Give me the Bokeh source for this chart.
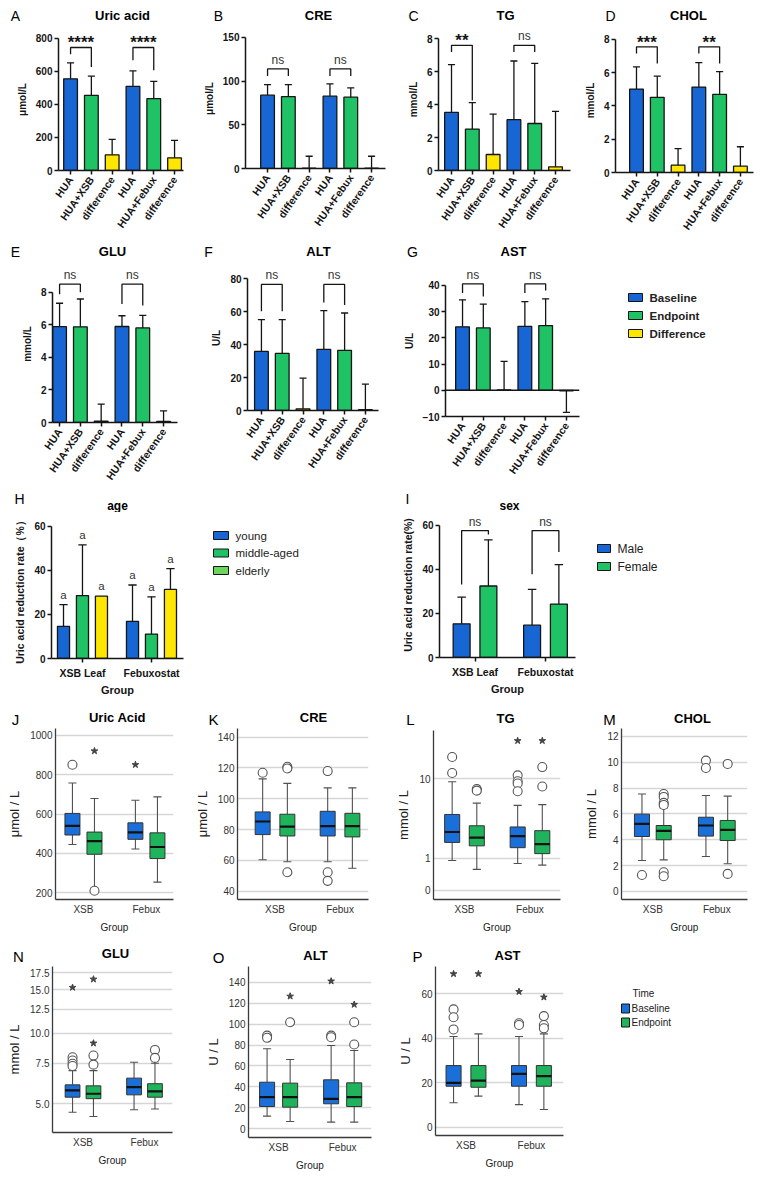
import numpy as np
from bokeh.plotting import figure
from bokeh.models import Range1d, FixedTicker, Span, ColumnDataSource
from bokeh.layouts import row, column
from bokeh.embed import file_html
from bokeh.resources import INLINE
from bokeh.core.properties import value

FONT = "Liberation Sans"
INK = "#151515"

GP_BLUE = "#1766d4"
GP_GREEN = "#1fc265"
GP_YELLOW = "#ffe600"
GP_LIGHT = "#6ad65a"
SP_BLUE = "#1b6fd8"
SP_GREEN = "#1fb45c"

# ---------------------------------------------------------------- data
bar_labels = ["HUA", "HUA+XSB", "difference", "HUA", "HUA+Febux", "difference"]
bar_roles = ["Baseline", "Endpoint", "Difference", "Baseline", "Endpoint", "Difference"]

uric_mean = [555, 455, 95, 510, 435, 77]
uric_sd = [97, 116, 93, 93, 105, 105]
cre_mean = [84.0, 82.4, 0.3, 82.8, 81.7, 0.3]
cre_sd = [12.0, 13.6, 13.7, 14.0, 10.6, 13.7]
tg_mean = [3.52, 2.51, 0.97, 3.08, 2.85, 0.22]
tg_sd = [2.90, 1.60, 2.45, 3.56, 3.65, 3.36]
chol_mean = [5.02, 4.52, 0.44, 5.14, 4.70, 0.38]
chol_sd = [1.33, 1.27, 0.99, 1.47, 1.37, 1.17]
glu_mean = [5.89, 5.88, 0.08, 5.90, 5.81, 0.06]
glu_sd = [1.44, 1.71, 1.05, 0.66, 0.77, 0.65]
alt_mean = [35.8, 34.6, 1.0, 37.1, 36.5, 0.5]
alt_sd = [19.3, 20.5, 18.6, 23.5, 22.6, 15.5]
ast_mean = [24.2, 23.8, 0.1, 24.4, 24.7, -0.2]
ast_sd = [10.3, 9.1, 10.9, 9.4, 10.2, 8.2]

# significance brackets: (left bar, right bar, bracket level, left leg end, right leg end, label)
uric_sig = [(0, 1, 745, 704, 627, "****"), (3, 4, 745, 668, 607, "****")]
cre_sig = [(0, 1, 114, 106, 106, "ns"), (3, 4, 114, 106, 106, "ns")]
tg_sig = [(0, 1, 7.59, 7.19, 4.25, "**"), (3, 4, 7.59, 7.19, 7.19, "ns")]
chol_sig = [(0, 1, 7.56, 7.16, 6.55, "***"), (3, 4, 7.56, 7.16, 6.55, "**")]
glu_sig = [(0, 1, 8.5, 7.89, 8.0, "ns"), (3, 4, 8.5, 7.29, 7.19, "ns")]
alt_sig = [(0, 1, 76.4, 60.2, 60.2, "ns"), (3, 4, 76.4, 65.5, 64.0, "ns")]
ast_sig = [(0, 1, 40.6, 37.1, 35.8, "ns"), (3, 4, 40.6, 37.1, 38.1, "ns")]

# uric acid reduction rate (%) by subgroup
group_labels = ["XSB Leaf", "Febuxostat"]
young_mean = [14.6, 16.9]
young_sd = [9.9, 16.5]
middle_mean = [28.6, 11.1]
middle_sd = [23.0, 16.9]
elderly_mean = [28.3, 31.4]
elderly_sd = [None, 9.4]
age_letters = ["a", "a", "a", "a", "a", "a"]

male_mean = [15.3, 14.7]
male_sd = [12.1, 16.3]
female_mean = [32.5, 24.3]
female_sd = [21.0, 17.9]
sex_sig = [(57.7, 33.2, 55.9, "ns"), (57.7, 37.8, 47.9, "ns")]

# box plots: order XSB-Baseline, XSB-Endpoint, Febux-Baseline, Febux-Endpoint
box_groups = ["XSB", "Febux"]
uric_box = dict(lo=[445, 222, 422, 253], q1=[493, 395, 471, 373], med=[540, 462, 506, 432],
                q3=[603, 508, 555, 504], hi=[758, 679, 670, 687])
uric_out = [(0, 851), (1, 209)]
uric_ext = [(1, 921), (2, 851)]

cre_box = dict(lo=[60.5, 59.2, 59.2, 55.0], q1=[76.8, 75.9, 75.9, 75.3], med=[85.3, 81.9, 82.3, 82.3],
               q3=[91.5, 90.0, 91.9, 90.6], hi=[112.9, 110.0, 107.1, 107.1])
cre_out = [(0, 116.9), (1, 120.8), (1, 119.7), (1, 52.4), (2, 118.0), (2, 52.4), (2, 46.8)]
cre_ext = []

tg_box = dict(lo=[0.90, 0.57, 0.78, 0.72], q1=[1.8, 1.6, 1.5, 1.2], med=[2.5, 2.1, 2.2, 1.7],
              q3=[4.1, 3.0, 2.9, 2.6], hi=[9.3, 5.5, 5.2, 5.3])
tg_out = [(0, 16.5), (0, 11.4), (1, 7.8), (1, 7.5), (2, 10.8), (2, 9.4), (2, 8.9), (2, 7.4), (3, 13.1), (3, 8.3)]
tg_ext = [(2, 23.8), (3, 23.8)]

chol_box = dict(lo=[2.40, 2.44, 2.70, 2.14], q1=[4.25, 4.00, 4.28, 3.94], med=[5.23, 4.69, 5.10, 4.76],
                q3=[5.98, 5.10, 5.74, 5.49], hi=[7.54, 6.46, 7.42, 7.37])
chol_out = [(0, 1.27), (1, 7.54), (1, 7.31), (1, 6.85), (1, 6.69), (1, 1.49), (1, 1.18),
            (2, 10.12), (2, 9.55), (3, 9.86), (3, 1.36)]
chol_ext = []

glu_box = dict(lo=[4.58, 4.38, 4.70, 4.74], q1=[5.35, 5.27, 5.48, 5.35], med=[5.73, 5.54, 5.92, 5.68],
               q3=[6.06, 6.00, 6.48, 6.13], hi=[6.98, 6.98, 7.57, 7.50])
glu_out = [(0, 7.95), (0, 7.7), (0, 7.46), (0, 7.3), (1, 8.08), (1, 7.4), (3, 8.53), (3, 7.9)]
glu_ext = [(0, 15.3), (1, 16.5), (1, 9.1)]

alt_box = dict(lo=[12.1, 7.0, 6.4, 6.4], q1=[21.3, 20.7, 23.9, 21.3], med=[30.2, 30.2, 28.6, 30.2],
               q3=[44.5, 43.6, 46.8, 43.9], hi=[76.4, 66.2, 79.5, 74.8])
alt_out = [(0, 89.0), (0, 86.9), (1, 101.8), (2, 89.0), (2, 87.5), (3, 101.8), (3, 80.5)]
alt_ext = [(1, 126.6), (2, 141.0), (3, 118.7)]

ast_box = dict(lo=[11.0, 14.0, 10.2, 8.0], q1=[18.45, 18.0, 18.45, 18.45], med=[19.95, 21.0, 24.0, 23.0],
               q3=[27.75, 27.75, 27.75, 27.75], hi=[40.8, 42.0, 40.8, 42.0])
ast_out = [(0, 53.0), (0, 49.5), (0, 44.0), (2, 46.8), (2, 46.0), (3, 50.0), (3, 46.0), (3, 44.5)]
ast_ext = [(0, 69.0), (1, 69.0), (2, 61.0), (3, 58.5)]

# panel headings and key entries
headings = {
    "A": "Uric acid", "B": "CRE", "C": "TG", "D": "CHOL", "E": "GLU", "F": "ALT", "G": "AST",
    "H": "age", "I": "sex", "J": "Uric Acid", "K": "CRE", "L": "TG", "M": "CHOL",
    "N": "GLU", "O": "ALT", "P": "AST",
}
time_key = ["Baseline", "Endpoint", "Difference"]
age_key = ["young", "middle-aged", "elderly"]
sex_key = ["Male", "Female"]


# ---------------------------------------------------------------- helpers
def make_fig(g):
    ox0, oy0, ox1, oy1 = g["outer"]
    L, T, R, B = g["frame"]
    p = figure(width=ox1 - ox0, height=oy1 - oy0,
               x_range=Range1d(*g["xr"]), y_range=Range1d(*g["yr"]),
               output_backend="svg", toolbar_location=None,
               min_border_left=L - ox0, min_border_right=ox1 - R,
               min_border_top=T - oy0, min_border_bottom=oy1 - B)
    p.outline_line_color = None
    p.background_fill_color = "white"
    p.border_fill_color = "white"
    p.xgrid.visible = False
    p.ygrid.visible = False
    return p


def canvas(x0, y0, x1, y1):
    """Plain drawing strip whose ranges are page pixels (y grows downward)."""
    p = figure(width=x1 - x0, height=y1 - y0, x_range=Range1d(x0, x1), y_range=Range1d(y1, y0),
               x_axis_location=None, y_axis_location=None, output_backend="svg",
               toolbar_location=None, min_border=0)
    p.outline_line_color = None
    p.background_fill_color = "white"
    p.border_fill_color = "white"
    p.grid.visible = False
    return p


def header(y0, y1, letters, titles, letter_size="14px", title_size="13px"):
    p = canvas(0, y0, 770, y1)
    p.text(x=[x for _, x, _ in letters], y=[y for _, _, y in letters], text=[t for t, _, _ in letters],
           text_align="center", text_baseline="middle", text_font=value(FONT),
           text_font_size=letter_size, text_color="#000")
    p.text(x=[x for _, x, _ in titles], y=[y for _, _, y in titles],
           text=[headings[t] for t, _, _ in titles],
           text_align="center", text_baseline="middle", text_font=value(FONT),
           text_font_size=title_size, text_font_style="bold", text_color="#000")
    return p


def key(box, labels, colors, x_left, sw_w, sw_h, ys, text_x, size, style, title=None):
    p = canvas(*box)
    p.rect(x=[x_left + sw_w / 2] * len(labels), y=ys, width=sw_w, height=sw_h,
           fill_color=colors, line_color=INK, line_width=1)
    p.text(x=[text_x] * len(labels), y=ys, text=labels, text_align="left", text_baseline="middle",
           text_font=value(FONT), text_font_size=size, text_font_style=style, text_color="#222")
    if title:
        t, tx, ty = title
        p.text(x=[tx], y=[ty], text=[t], text_align="center", text_baseline="middle",
               text_font=value(FONT), text_font_size=size, text_color="#222")
    return p


def per_px(g):
    L, T, R, B = g["frame"]
    y0, y1 = g["yr"]
    return (y1 - y0) / (B - T)


def gp_axes(p, yticks, ybounds, ylabel, label_size="10px"):
    for ax in (p.xaxis[0], p.yaxis[0]):
        ax.axis_line_color = INK
        ax.axis_line_width = 1.5
        ax.major_tick_line_color = INK
        ax.major_tick_line_width = 1.5
        ax.major_tick_out = 4
        ax.major_tick_in = 0
        ax.minor_tick_line_color = None
        ax.major_label_text_font = FONT
        ax.major_label_text_font_size = "10px"
        ax.major_label_text_font_style = "bold"
        ax.major_label_text_color = INK
        ax.axis_label_text_font = FONT
        ax.axis_label_text_font_style = "bold"
        ax.axis_label_text_color = INK
        ax.axis_label_text_font_size = label_size
    p.yaxis.ticker = FixedTicker(ticks=yticks)
    p.yaxis.bounds = ybounds
    p.yaxis.axis_label = ylabel
    p.yaxis.major_label_standoff = 2
    p.yaxis.axis_label_standoff = 5


def sig_text(p, g, x, level, label):
    k = per_px(g)
    if label == "ns":
        p.text(x=[x], y=[level + 9 * k], text=[label], text_align="center", text_baseline="middle",
               text_font=value(FONT), text_font_size="12px", text_color="#333")
    else:
        p.text(x=[x], y=[level + 4.5 * k], text=[label], text_align="center", text_baseline="middle",
               text_font=value(FONT), text_font_size="17px", text_font_style="bold", text_color=INK)


def bar_panel(g, means, sds, sig, yticks, ybounds, ylabel, zero_line=False):
    p = make_fig(g)
    idx = np.arange(len(bar_labels), dtype=float)
    means = np.asarray(means, dtype=float)
    sds = np.asarray(sds, dtype=float)
    ends = np.where(means < 0, means - sds, means + sds)
    for role, color in (("Baseline", GP_BLUE), ("Endpoint", GP_GREEN), ("Difference", GP_YELLOW)):
        sel = [i for i, r in enumerate(bar_roles) if r == role]
        src = ColumnDataSource(dict(x=idx[sel], top=means[sel]))
        p.vbar(x="x", top="top", bottom=0, width=0.66, source=src,
               fill_color=color, line_color=INK, line_width=1.3)
    p.segment(x0=idx, y0=means, x1=idx, y1=ends, line_color=INK, line_width=1.3)
    p.segment(x0=idx - 0.17, y0=ends, x1=idx + 0.17, y1=ends, line_color=INK, line_width=1.3)
    xs, ys = [], []
    for i, j, lev, le, re, lab in sig:
        xs.append([i, i, j, j])
        ys.append([le, lev, lev, re])
        sig_text(p, g, (i + j) / 2, lev, lab)
    p.multi_line(xs, ys, line_color=INK, line_width=1.3)
    if zero_line:
        p.add_layout(Span(location=0, dimension="width", line_color=INK, line_width=1.5))
    gp_axes(p, yticks, ybounds, ylabel)
    p.xaxis.ticker = FixedTicker(ticks=list(range(len(bar_labels))))
    p.xaxis.major_label_overrides = {i: lab for i, lab in enumerate(bar_labels)}
    p.xaxis.major_label_orientation = np.deg2rad(55)
    p.xaxis.major_label_text_font_size = "10.5px"
    p.xaxis.major_label_standoff = 3
    return p


def box_panel(g, st, outl, ext, ticks, tick_labels, ylabel, off, width, tf=None):
    tf = tf or (lambda v: np.asarray(v, dtype=float))
    p = make_fig(g)
    pos = np.array([-off, off, 1 - off, 1 + off])
    lo, q1, med, q3, hi = (tf(st[k]) for k in ("lo", "q1", "med", "q3", "hi"))
    whisk = "#505050"
    p.segment(x0=pos, y0=q3, x1=pos, y1=hi, line_color=whisk, line_width=1.1)
    p.segment(x0=pos, y0=q1, x1=pos, y1=lo, line_color=whisk, line_width=1.1)
    cap = width * 0.27
    p.segment(x0=pos - cap, y0=hi, x1=pos + cap, y1=hi, line_color=whisk, line_width=1.1)
    p.segment(x0=pos - cap, y0=lo, x1=pos + cap, y1=lo, line_color=whisk, line_width=1.1)
    for k, color in enumerate((SP_BLUE, SP_GREEN)):
        sel = [k, k + 2]
        src = ColumnDataSource(dict(x=pos[sel], b=q1[sel], t=q3[sel]))
        p.vbar(x="x", bottom="b", top="t", width=width, source=src,
               fill_color=color, line_color="#333", line_width=1)
    p.segment(x0=pos - width / 2, y0=med, x1=pos + width / 2, y1=med, line_color="#111", line_width=2.2)
    if outl:
        ox = [pos[i] for i, v in outl]
        oy = tf([v for i, v in outl])
        p.scatter(ox, oy, marker="circle", size=9, fill_color="white", line_color="#555", line_width=1.1)
    if ext:
        ex = [pos[i] for i, v in ext]
        ey = tf([v for i, v in ext])
        p.scatter(ex, ey, marker="star", size=7, fill_color="#444", line_color="#444")
    ticks = [round(float(t), 6) for t in tf(ticks)]
    p.ygrid.visible = True
    p.ygrid.ticker = FixedTicker(ticks=ticks)
    p.ygrid.grid_line_color = "#d6d6d6"
    p.ygrid.grid_line_width = 1.3
    for ax in (p.xaxis[0], p.yaxis[0]):
        ax.axis_line_color = "#3a3a3a"
        ax.axis_line_width = 1.3
        ax.major_tick_line_color = None
        ax.major_tick_out = 0
        ax.major_tick_in = 0
        ax.minor_tick_line_color = None
        ax.minor_tick_out = 0
        ax.major_label_text_font = FONT
        ax.major_label_text_font_size = "10px"
        ax.major_label_text_color = "#333"
        ax.axis_label_text_font = FONT
        ax.axis_label_text_font_style = "normal"
        ax.axis_label_text_color = "#222"
    p.yaxis.ticker = FixedTicker(ticks=ticks)
    p.yaxis.major_label_overrides = {t: lab for t, lab in zip(ticks, tick_labels)}
    p.yaxis.major_label_standoff = 3
    p.yaxis.axis_label = ylabel
    p.yaxis.axis_label_text_font_size = "13px"
    p.yaxis.axis_label_standoff = 5
    p.xaxis.ticker = FixedTicker(ticks=[0, 1])
    p.xaxis.major_label_overrides = {0: box_groups[0], 1: box_groups[1]}
    p.xaxis.major_label_standoff = 4
    p.xaxis.axis_label = "Group"
    p.xaxis.axis_label_text_font_size = "10px"
    p.xaxis.axis_label_standoff = 4
    return p


def log1p10(v):
    return np.log10(np.asarray(v, dtype=float) + 1.0)


def strip(*items):
    # each plot sits in its own column so that neighbouring frames keep their own borders
    return row(*[column(it) for it in items])


# ---------------------------------------------------------------- panel geometry (page pixels)
G = {
    "A": dict(outer=(0, 25, 195, 240), frame=(58, 28, 183, 170), xr=(-0.58, 5.43), yr=(0, 860)),
    "B": dict(outer=(195, 25, 390, 240), frame=(245, 28, 385, 168), xr=(-1.06, 5.67), yr=(0, 160.3)),
    "C": dict(outer=(390, 25, 575, 240), frame=(438, 28, 570, 170), xr=(-0.625, 5.72), yr=(0, 8.61)),
    "D": dict(outer=(575, 25, 770, 240), frame=(615, 28, 753, 172), xr=(-1.01, 5.63), yr=(0, 8.66)),
    "E": dict(outer=(0, 262, 195, 488), frame=(52, 265, 177, 423), xr=(-0.34, 5.67), yr=(0, 9.65)),
    "F": dict(outer=(195, 262, 385, 488), frame=(247, 265, 378, 410), xr=(-0.67, 5.63), yr=(0, 87.9)),
    "G": dict(outer=(385, 262, 600, 488), frame=(445, 265, 579, 416), xr=(-0.82, 5.63), yr=(-10, 47.6)),
    "H": dict(outer=(0, 512, 200, 700), frame=(51, 520, 183, 658), xr=(-0.449, 1.464), yr=(0, 62.7)),
    "I": dict(outer=(385, 512, 590, 700), frame=(439, 512, 575, 657), xr=(-0.504, 1.426), yr=(0, 65.9)),
    "J": dict(outer=(0, 728, 190, 935), frame=(55, 728, 173, 900), xr=(-0.444, 1.43), yr=(164.6, 1035.4)),
    "K": dict(outer=(190, 728, 385, 935), frame=(237, 728, 368, 901), xr=(-0.577, 1.438), yr=(34.7, 145.6)),
    "L": dict(outer=(385, 728, 580, 935), frame=(433, 730, 560, 902), xr=(-0.473, 1.466), yr=(-0.085, 1.49)),
    "M": dict(outer=(580, 728, 770, 935), frame=(621, 728, 747, 899), xr=(-0.49, 1.48), yr=(-0.62, 12.6)),
    "N": dict(outer=(0, 966, 190, 1179), frame=(52, 966, 172, 1132), xr=(-0.496, 1.455), yr=(0.671, 1.2905)),
    "O": dict(outer=(190, 966, 385, 1179), frame=(248, 966, 371, 1137), xr=(-0.47, 1.45), yr=(-8.3, 155.0)),
    "P": dict(outer=(385, 966, 600, 1179), frame=(435, 966, 563, 1135), xr=(-0.466, 1.49), yr=(-3.7, 72.3)),
}

# ---------------------------------------------------------------- bar panels A-G
pA = bar_panel(G["A"], uric_mean, uric_sd, uric_sig, [0, 200, 400, 600, 800], (0, 800), "μmol/L")
pB = bar_panel(G["B"], cre_mean, cre_sd, cre_sig, [0, 50, 100, 150], (0, 150), "μmol/L")
pC = bar_panel(G["C"], tg_mean, tg_sd, tg_sig, [0, 2, 4, 6, 8], (0, 8), "mmol/L")
pD = bar_panel(G["D"], chol_mean, chol_sd, chol_sig, [0, 2, 4, 6, 8], (0, 8), "mmol/L")
pE = bar_panel(G["E"], glu_mean, glu_sd, glu_sig, [0, 2, 4, 6, 8], (0, 8), "mmol/L")
pF = bar_panel(G["F"], alt_mean, alt_sd, alt_sig, [0, 20, 40, 60, 80], (0, 80), "U/L")
pG = bar_panel(G["G"], ast_mean, ast_sd, ast_sig, [-10, 0, 10, 20, 30, 40], (-10, 40), "U/L",
               zero_line=True)
kG = key((600, 262, 770, 488), time_key, [GP_BLUE, GP_GREEN, GP_YELLOW], 628, 14, 8,
         [297, 315, 333], 649, "11.5px", "bold")


# ---------------------------------------------------------------- subgroup panels H, I
def sub_axes(p, ylabel):
    gp_axes(p, [0, 20, 40, 60], (0, 60), ylabel, label_size="10.5px")
    p.xaxis.ticker = FixedTicker(ticks=[0, 1])
    p.xaxis.major_label_overrides = {0: group_labels[0], 1: group_labels[1]}
    p.xaxis.major_label_text_font_size = "10.5px"
    p.xaxis.major_label_standoff = 4
    p.xaxis.axis_label = "Group"
    p.xaxis.axis_label_text_font_size = "11px"
    p.xaxis.axis_label_standoff = 2


def sub_bars(p, xs, means, sds, color, width):
    xs = np.asarray(xs, dtype=float)
    p.vbar(x=xs, top=means, bottom=0, width=width, fill_color=color, line_color=INK, line_width=1.3)
    keep = [i for i, s in enumerate(sds) if s is not None]
    ex = xs[keep]
    m = np.array([means[i] for i in keep], dtype=float)
    e = m + np.array([sds[i] for i in keep], dtype=float)
    p.segment(x0=ex, y0=m, x1=ex, y1=e, line_color=INK, line_width=1.3)
    p.segment(x0=ex - 0.06, y0=e, x1=ex + 0.06, y1=e, line_color=INK, line_width=1.3)


gH = G["H"]
pH = make_fig(gH)
grp = np.arange(2, dtype=float)
sub_bars(pH, grp - 0.275, young_mean, young_sd, GP_BLUE, 0.175)
sub_bars(pH, grp, middle_mean, middle_sd, GP_GREEN, 0.175)
sub_bars(pH, grp + 0.275, elderly_mean, elderly_sd, GP_YELLOW, 0.175)
a_x, a_y = [], []
for off, mean, sd in ((-0.275, young_mean, young_sd), (0.0, middle_mean, middle_sd),
                      (0.275, elderly_mean, elderly_sd)):
    for gi in range(2):
        a_x.append(gi + off)
        a_y.append(mean[gi] + (sd[gi] if sd[gi] is not None else 0.0))
pH.text(x=a_x, y=[v + 10 * per_px(gH) for v in a_y], text=age_letters, text_align="center",
        text_baseline="middle", text_font=value(FONT), text_font_size="11.5px", text_color="#333")
sub_axes(pH, "Uric acid reduction rate（%）")
kH = key((200, 512, 385, 700), age_key, [GP_BLUE, GP_GREEN, GP_LIGHT], 213, 15, 8,
         [535, 552.5, 570], 235, "11.5px", "normal")

gI = G["I"]
pI = make_fig(gI)
sub_bars(pI, grp - 0.19, male_mean, male_sd, GP_BLUE, 0.24)
sub_bars(pI, grp + 0.19, female_mean, female_sd, GP_GREEN, 0.24)
xs, ys = [], []
for gi, (lev, le, re, lab) in enumerate(sex_sig):
    xs.append([gi - 0.19, gi - 0.19, gi + 0.19, gi + 0.19])
    ys.append([le, lev, lev, re])
    sig_text(pI, gI, gi, lev, lab)
pI.multi_line(xs, ys, line_color=INK, line_width=1.3)
sub_axes(pI, "Uric acid reduction rate(%)")
kI = key((590, 512, 770, 700), sex_key, [GP_BLUE, GP_GREEN], 597, 13, 8,
         [548, 566], 617, "12px", "normal")

# ---------------------------------------------------------------- box plot panels J-P
pJ = box_panel(G["J"], uric_box, uric_out, uric_ext, [200, 400, 600, 800, 1000],
               ["200", "400", "600", "800", "1000"], "μmol / L", 0.175, 0.238)
pK = box_panel(G["K"], cre_box, cre_out, cre_ext, [40, 60, 80, 100, 120, 140],
               ["40", "60", "80", "100", "120", "140"], "μmol / L", 0.19, 0.23)
pL = box_panel(G["L"], tg_box, tg_out, tg_ext, [0, 1, 10], ["0", "1", "10"], "mmol / L",
               0.188, 0.23, tf=log1p10)
pM = box_panel(G["M"], chol_box, chol_out, chol_ext, [0, 2, 4, 6, 8, 10, 12],
               ["0", "2", "4", "6", "8", "10", "12"], "mmol / L", 0.17, 0.235)
pN = box_panel(G["N"], glu_box, glu_out, glu_ext, [5.0, 7.5, 10.0, 12.5, 15.0, 17.5],
               ["5.0", "7.5", "10.0", "12.5", "15.0", "17.5"], "mmol / L", 0.17, 0.24, tf=log1p10)
pO = box_panel(G["O"], alt_box, alt_out, alt_ext, [0, 20, 40, 60, 80, 100, 120, 140],
               ["0", "20", "40", "60", "80", "100", "120", "140"], "U / L", 0.18, 0.235)
pP = box_panel(G["P"], ast_box, ast_out, ast_ext, [0, 20, 40, 60], ["0", "20", "40", "60"],
               "U / L", 0.19, 0.23)
kP = key((600, 966, 770, 1179), time_key[:2], [SP_BLUE, SP_GREEN], 621, 8, 9,
         [1008, 1022], 631, "10px", "normal", title=("Time", 643, 993))

# ---------------------------------------------------------------- headings
h1 = header(0, 25, [("A", 15, 15), ("B", 218, 15), ("C", 413, 15), ("D", 610, 15)],
            [("A", 122, 15), ("B", 318, 15), ("C", 505, 15), ("D", 688, 15)])
h2 = header(240, 262, [("E", 15, 251), ("F", 208, 251), ("G", 412, 251)],
            [("E", 112, 251), ("F", 318, 251), ("G", 513, 251)])
h3 = header(488, 512, [("H", 19, 498), ("I", 407, 498)],
            [("H", 117, 505), ("I", 509, 505)], title_size="12px")
h4 = header(700, 728, [("J", 15, 719), ("K", 213, 719), ("L", 410, 719), ("M", 609, 719)],
            [("J", 117, 717), ("K", 313, 717), ("L", 505, 718), ("M", 692, 718)], letter_size="15px")
h5 = header(935, 966, [("N", 18, 956), ("O", 218, 957), ("P", 417, 956)],
            [("N", 115, 953), ("O", 315, 955), ("P", 507, 955)], letter_size="15px")

layout = column(
    h1, strip(pA, pB, pC, pD),
    h2, strip(pE, pF, pG, kG),
    h3, strip(pH, kH, pI, kI),
    h4, strip(pJ, pK, pL, pM),
    h5, strip(pN, pO, pP, kP),
)

with open("out.html", "w") as f:
    f.write(file_html(layout, INLINE, title="Serum biochemistry"))
